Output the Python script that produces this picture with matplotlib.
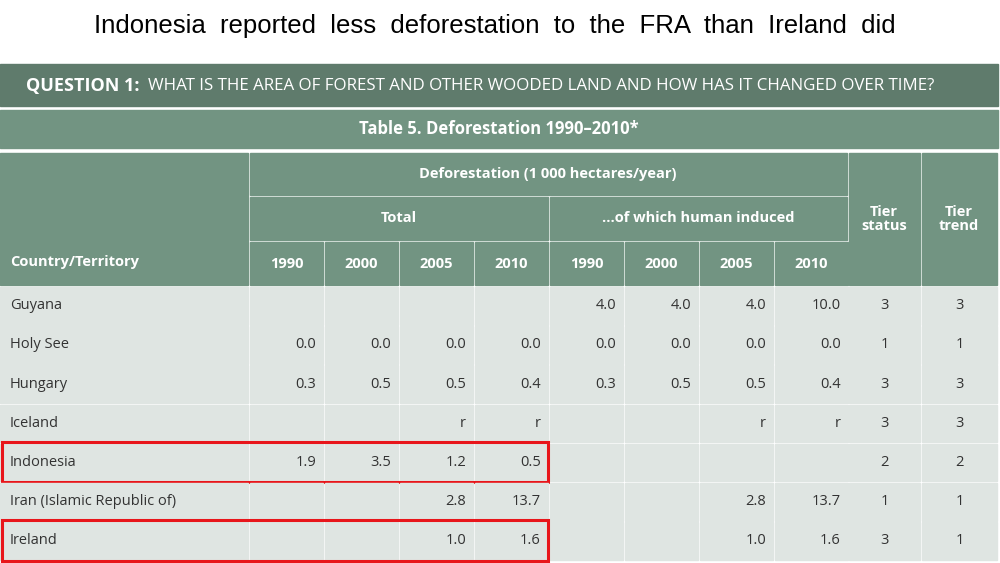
import matplotlib.pyplot as plt
from matplotlib.patches import Rectangle

countries = ["Guyana", "Holy See", "Hungary", "Iceland", "Indonesia",
             "Iran (Islamic Republic of)", "Ireland"]
years = ["1990", "2000", "2005", "2010"]
total = [["", "", "", ""], ["0.0", "0.0", "0.0", "0.0"], ["0.3", "0.5", "0.5", "0.4"],
         ["", "", "r", "r"], ["1.9", "3.5", "1.2", "0.5"], ["", "", "2.8", "13.7"],
         ["", "", "1.0", "1.6"]]
human = [["4.0", "4.0", "4.0", "10.0"], ["0.0", "0.0", "0.0", "0.0"], ["0.3", "0.5", "0.5", "0.4"],
         ["", "", "r", "r"], ["", "", "", ""], ["", "", "2.8", "13.7"], ["", "", "1.0", "1.6"]]
tier_status = ["3", "1", "3", "3", "2", "1", "3"]
tier_trend = ["3", "1", "3", "3", "2", "1", "1"]
highlight = ["Indonesia", "Ireland"]

fig = plt.figure(figsize=(10, 5.63), dpi=100)
ax = fig.add_axes([0, 0, 1, 1])
ax.set_xlim(0, 1000); ax.set_ylim(563, 0); ax.axis("off")

dark = "#5f7b6c"; hdr = "#729482"; rowc = "#dfe5e2"; fc = "Liberation Sans"
ax.text(495, 26, "Indonesia  reported  less  deforestation  to  the  FRA  than  Ireland  did",
        ha="center", va="center", fontsize=18.5, family=fc)
ax.add_patch(Rectangle((0, 64), 998, 42, color=dark))
ax.text(26, 86, "QUESTION 1:", color="white", fontsize=13, fontweight="bold", va="center", family="Open Sans")
ax.text(148, 86, "WHAT IS THE AREA OF FOREST AND OTHER WOODED LAND AND HOW HAS IT CHANGED OVER TIME?",
        color="white", fontsize=12.2, va="center", family="Open Sans")
ax.add_patch(Rectangle((0, 110), 998, 38, color=hdr))
ax.text(499, 129, "Table 5. Deforestation 1990–2010*", color="white", fontsize=12, fontweight="bold",
        ha="center", va="center", family="Open Sans")

cols = [(0, 248)] + [(250 + 75 * i, 323 + 75 * i) for i in range(8)] + [(849, 920), (922, 997)]
def cell(x0, x1, y0, y1, c):
    ax.add_patch(Rectangle((x0, y0), x1 - x0, y1 - y0, color=c))
tk = dict(color="white", fontsize=10.5, fontweight="bold", va="center", family="Open Sans")
cell(0, 248, 153, 285, hdr); ax.text(10, 262, "Country/Territory", **tk)
cell(250, 847, 153, 195, hdr); ax.text(548, 174, "Deforestation (1 000 hectares/year)", ha="center", **tk)
cell(250, 548, 197, 240, hdr); ax.text(399, 218, "Total", ha="center", **tk)
cell(550, 847, 197, 240, hdr); ax.text(698, 218, "...of which human induced", ha="center", **tk)
for i in range(8):
    x0, x1 = cols[1 + i]
    cell(x0, x1, 242, 285, hdr); ax.text((x0 + x1) / 2, 264, years[i % 4], ha="center", **tk)
cell(849, 920, 153, 285, hdr); ax.text(884, 219, "Tier\nstatus", ha="center", linespacing=0.95, **tk)
cell(922, 997, 153, 285, hdr); ax.text(959, 219, "Tier\ntrend", ha="center", linespacing=0.95, **tk)

dk = dict(fontsize=10.5, va="center", color="#333333", family="Open Sans")
for r, name in enumerate(countries):
    y0 = 287 + 39.2 * r; y1 = y0 + 37.5; yc = (y0 + y1) / 2
    vals = [name] + total[r] + human[r] + [tier_status[r], tier_trend[r]]
    for j, (x0, x1) in enumerate(cols):
        cell(x0, x1, y0, y1, rowc)
        if j == 0:
            ax.text(x0 + 10, yc, vals[j], **dk)
        elif j < 9:
            ax.text(x1 - 7, yc, vals[j], ha="right", **dk)
        else:
            ax.text((x0 + x1) / 2, yc, vals[j], ha="center", **dk)
    if name in highlight:
        ax.add_patch(Rectangle((2, y0 - 2), 546, y1 - y0 + 3, fill=False, ec="#e8161b", lw=2.2))

fig.savefig("out.png", dpi=100)
